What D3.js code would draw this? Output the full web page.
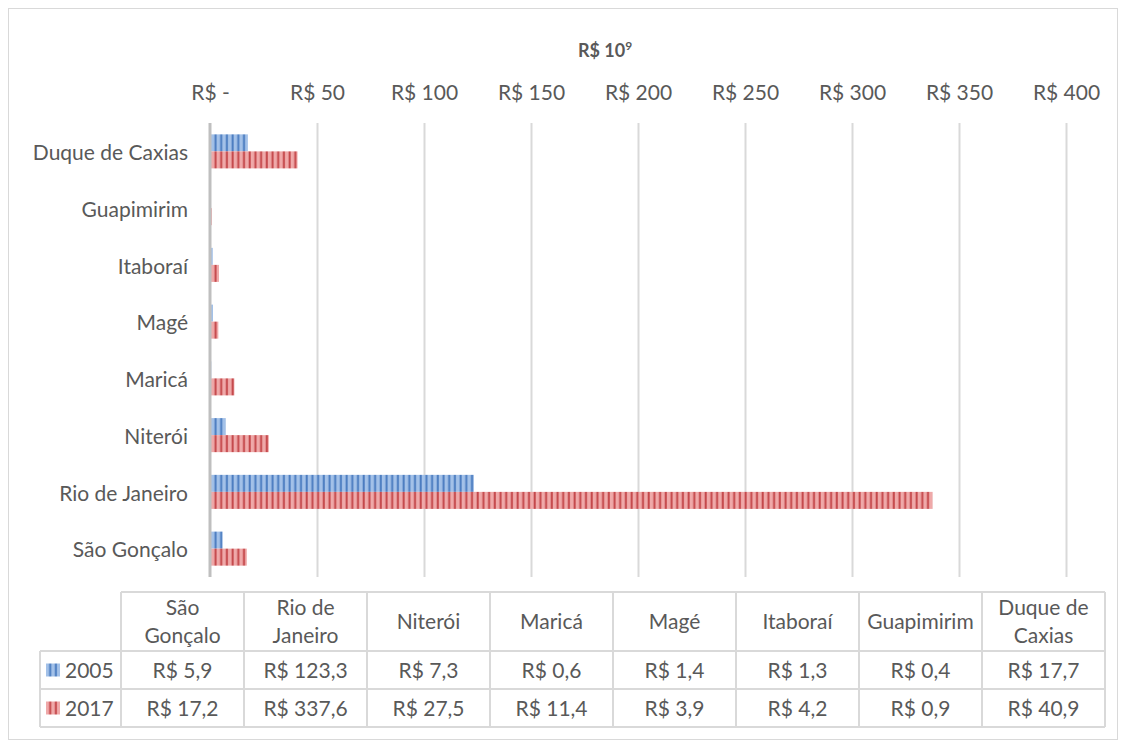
<!DOCTYPE html>
<html>
<head>
<meta charset="utf-8">
<script src="https://cdn.jsdelivr.net/npm/d3@7"></script>
<style>
  html, body { margin: 0; padding: 0; background: #ffffff; }
  svg { display: block; }
  text { font-family: Lato, "Open Sans", sans-serif; fill: #595959; }
</style>
</head>
<body>
<svg id="chart" width="1121" height="749"></svg>
<script>
// Municipal GDP (R$ billions) for the Rio de Janeiro metropolitan area
const categories = ["São Gonçalo", "Rio de Janeiro", "Niterói", "Maricá", "Magé", "Itaboraí", "Guapimirim", "Duque de Caxias"];
const tableHeaders = [["São", "Gonçalo"], ["Rio de", "Janeiro"], ["Niterói"], ["Maricá"], ["Magé"], ["Itaboraí"], ["Guapimirim"], ["Duque de", "Caxias"]];
const seriesNames = ["2005", "2017"];
const values2005 = [5.9, 123.3, 7.3, 0.6, 1.4, 1.3, 0.4, 17.7];
const values2017 = [17.2, 337.6, 27.5, 11.4, 3.9, 4.2, 0.9, 40.9];
const xTicks = [0, 50, 100, 150, 200, 250, 300, 350, 400];

const seriesValues = [values2005, values2017];
const seriesStyle = [
  { light: "#a3c1e8", dark: "#4a7cc0", id: "pat2005" },
  { light: "#efa9a9", dark: "#c4474a", id: "pat2017" }
];

const FS = "21px";
const svg = d3.select("#chart");

// outer chart frame
svg.append("rect").attr("x", 8.5).attr("y", 8.5).attr("width", 1109).attr("height", 731)
  .attr("fill", "#fff").attr("stroke", "#d9d9d9").attr("stroke-width", 1);

// striped fills
const defs = svg.append("defs");
const period = 5.7;
seriesStyle.forEach(s => {
  const p = defs.append("pattern").attr("id", s.id).attr("patternUnits", "userSpaceOnUse")
    .attr("x", 211).attr("y", 0).attr("width", period).attr("height", 10);
  p.append("rect").attr("width", period).attr("height", 10).attr("fill", s.light);
  p.append("rect").attr("x", period - 2.2).attr("width", 2).attr("height", 10).attr("fill", s.dark);
});

const plot = { left: 210, right: 1066, top: 123, bottom: 577 };
const x = d3.scaleLinear().domain([0, 400]).range([plot.left, plot.right]);
// first category sits at the bottom of the plot, as in the table order
const y = d3.scaleBand().domain(categories.slice().reverse()).range([plot.top, plot.bottom]).paddingInner(0.4).paddingOuter(0.2);
const ySub = d3.scaleBand().domain(seriesNames).range([0, y.bandwidth()]);

// title
const title = svg.append("text").attr("x", 605).attr("y", 57).attr("text-anchor", "middle")
  .style("font-weight", "bold").style("font-size", "18px");
title.append("tspan").text("R$ 10");
title.append("tspan").attr("dy", -7).style("font-size", "12px").text("9");

// vertical gridlines
svg.append("g").selectAll("line").data(xTicks.filter(d => d > 0)).join("line")
  .attr("x1", d => x(d) + 0.5).attr("x2", d => x(d) + 0.5)
  .attr("y1", plot.top).attr("y2", plot.bottom)
  .attr("stroke", "#d9d9d9").attr("stroke-width", 2);

// top axis labels
const xAxis = d3.axisTop(x).tickValues(xTicks).tickSize(0).tickPadding(0)
  .tickFormat(d => d === 0 ? "R$ -" : "R$ " + d);
const gx = svg.append("g").attr("transform", `translate(0, 100)`).call(xAxis);
gx.select(".domain").remove();
gx.selectAll("text").style("font-size", FS).attr("fill", "#595959")
  .style("font-family", "Lato, 'Open Sans', sans-serif");

// category labels
const yAxis = d3.axisLeft(y).tickSize(0).tickPadding(0);
const gy = svg.append("g").attr("transform", `translate(188, 2)`).call(yAxis);
gy.select(".domain").remove();
gy.selectAll("text").style("font-size", FS).attr("fill", "#595959")
  .style("font-family", "Lato, 'Open Sans', sans-serif");

// bars
seriesNames.forEach((name, si) => {
  svg.append("g").selectAll("rect").data(categories.map((c, i) => ({ c, v: seriesValues[si][i] }))).join("rect")
    .attr("x", x(0))
    .attr("y", d => y(d.c) + ySub(name))
    .attr("width", d => x(d.v) - x(0))
    .attr("height", ySub.bandwidth())
    .attr("fill", `url(#${seriesStyle[si].id})`);
});

// value axis baseline
svg.append("line").attr("x1", x(0)).attr("x2", x(0)).attr("y1", plot.top).attr("y2", plot.bottom)
  .attr("stroke", "#bfbfbf").attr("stroke-width", 3);

// data table
const tbl = { left: 121, colW: 123, legendLeft: 40, top: 592, headerH: 59, rowH: 38 };
const tableX = d3.scaleBand().domain(categories).range([tbl.left, tbl.left + tbl.colW * categories.length]);
const tg = svg.append("g");
const lineColor = "#d9d9d9";
const tRight = tableX.range()[1];
const rowY = [tbl.top, tbl.top + tbl.headerH, tbl.top + tbl.headerH + tbl.rowH, tbl.top + tbl.headerH + 2 * tbl.rowH];

// horizontal rules
tg.append("line").attr("x1", tbl.left).attr("x2", tRight).attr("y1", rowY[0]).attr("y2", rowY[0]);
[1, 2, 3].forEach(k => tg.append("line").attr("x1", tbl.legendLeft).attr("x2", tRight).attr("y1", rowY[k]).attr("y2", rowY[k]));
// vertical rules
categories.forEach(c => tg.append("line").attr("x1", tableX(c)).attr("x2", tableX(c)).attr("y1", rowY[0]).attr("y2", rowY[3]));
tg.append("line").attr("x1", tRight).attr("x2", tRight).attr("y1", rowY[0]).attr("y2", rowY[3]);
tg.append("line").attr("x1", tbl.legendLeft).attr("x2", tbl.legendLeft).attr("y1", rowY[1]).attr("y2", rowY[3]);
tg.selectAll("line").attr("stroke", lineColor).attr("stroke-width", 2);

// header cells
categories.forEach((c, i) => {
  const lines = tableHeaders[i];
  const cx = tableX(c) + tbl.colW / 2;
  const cy = rowY[0] + tbl.headerH / 2;
  const t = tg.append("text").attr("x", cx).attr("text-anchor", "middle").style("font-size", FS);
  lines.forEach((ln, k) => {
    t.append("tspan").attr("x", cx)
      .attr("y", cy + 7 + (k - (lines.length - 1) / 2) * 28)
      .text(ln);
  });
});

// value rows with legend keys
seriesNames.forEach((name, si) => {
  const cy = rowY[1 + si] + tbl.rowH / 2;
  tg.append("rect").attr("x", 46).attr("y", cy - 6.5).attr("width", 14).attr("height", 13)
    .attr("fill", `url(#${seriesStyle[si].id})`);
  tg.append("text").attr("x", 65).attr("y", cy + 7.5).style("font-size", FS).text(name);
  categories.forEach((c, i) => {
    tg.append("text").attr("x", tableX(c) + tbl.colW / 2).attr("y", cy + 7.5)
      .attr("text-anchor", "middle").style("font-size", FS)
      .text("R$ " + String(seriesValues[si][i]).replace(".", ","));
  });
});
</script>
</body>
</html>
